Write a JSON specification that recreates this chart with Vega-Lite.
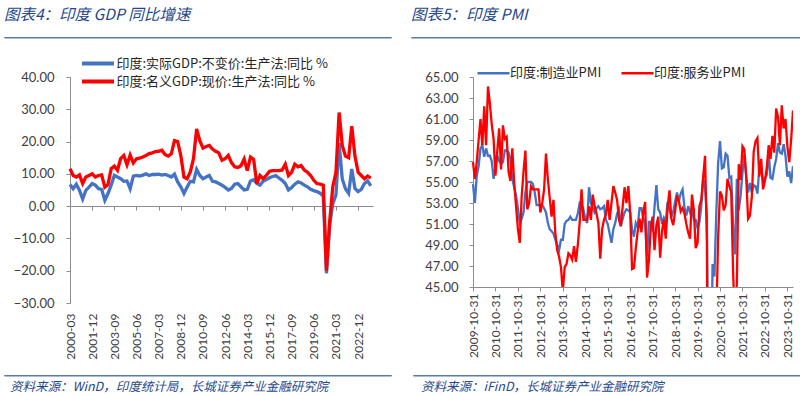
{
 "$schema": "https://vega.github.io/schema/vega-lite/v6.json",
 "padding": {"left": 3, "top": 7, "right": 0, "bottom": 0},
 "background": "white",
 "config": {
  "view": {"stroke": null},
  "font": "Noto Sans CJK SC",
  "axis": {"labelFont": "Lato", "labelFontSize": 13, "labelColor": "#404040", "domainColor": "#8c8c8c", "tickColor": "#8c8c8c", "grid": false, "tickSize": 4, "labelOverlap": false},
  "legend": {"labelFont": "Noto Sans CJK SC", "labelColor": "#262626", "padding": 0}
 },
 "spacing": 12,
 "vconcat": [
  {
   "spacing": 18,
   "hconcat": [
    {
     "width": 387, "height": 0.5,
     "view": {"stroke": "#5a7ca0", "strokeWidth": 1},
     "title": {"text": "图表4：印度 GDP 同比增速", "anchor": "start", "offset": 11, "fontSize": 15.5, "fontStyle": "italic", "fontWeight": "normal", "color": "#24488c", "font": "Noto Sans CJK SC"},
     "data": {"values": [{}]},
     "mark": {"type": "point", "opacity": 0},
     "encoding": {}
    },
    {
     "width": 389, "height": 0.5,
     "view": {"stroke": "#5a7ca0", "strokeWidth": 1},
     "title": {"text": "图表5：印度 PMI", "anchor": "start", "offset": 11, "fontSize": 15.5, "fontStyle": "italic", "fontWeight": "normal", "color": "#24488c", "font": "Noto Sans CJK SC"},
     "data": {"values": [{}]},
     "mark": {"type": "point", "opacity": 0},
     "encoding": {}
    }
   ]
  },
  {
   "spacing": 36,
   "resolve": {"scale": {"color": "independent", "x": "independent", "y": "independent"}, "legend": {"color": "independent"}, "axis": {"x": "independent", "y": "independent"}},
   "hconcat": [
    {
     "width": 369, "height": 226,
     "data": {"values": [
      {"d":"2000-03","a":6.7,"b":11.6},{"d":"2000-06","a":5.4,"b":9.5},{"d":"2000-09","a":6.8,"b":9.0},{"d":"2000-12","a":4.9,"b":9.7},
      {"d":"2001-03","a":2.2,"b":7.0},{"d":"2001-06","a":4.9,"b":9.0},{"d":"2001-09","a":5.9,"b":9.5},{"d":"2001-12","a":7.0,"b":10.0},
      {"d":"2002-03","a":6.5,"b":9.0},{"d":"2002-06","a":5.4,"b":9.5},{"d":"2002-09","a":5.2,"b":9.7},{"d":"2002-12","a":1.8,"b":5.9},
      {"d":"2003-03","a":3.9,"b":6.7},{"d":"2003-06","a":6.5,"b":11.6},{"d":"2003-09","a":9.5,"b":12.4},{"d":"2003-12","a":9.0,"b":11.1},
      {"d":"2004-03","a":8.5,"b":14.7},{"d":"2004-06","a":7.7,"b":15.7},{"d":"2004-09","a":7.8,"b":12.8},{"d":"2004-12","a":5.4,"b":15.8},
      {"d":"2005-03","a":9.3,"b":13.4},{"d":"2005-06","a":9.5,"b":14.7},{"d":"2005-09","a":9.3,"b":14.9},{"d":"2005-12","a":9.6,"b":15.2},
      {"d":"2006-03","a":10.0,"b":15.7},{"d":"2006-06","a":9.5,"b":16.3},{"d":"2006-09","a":9.8,"b":16.5},{"d":"2006-12","a":9.8,"b":16.9},
      {"d":"2007-03","a":9.9,"b":17.0},{"d":"2007-06","a":9.6,"b":17.3},{"d":"2007-09","a":9.8,"b":16.0},{"d":"2007-12","a":9.5,"b":15.5},
      {"d":"2008-03","a":9.0,"b":16.2},{"d":"2008-06","a":9.9,"b":20.3},{"d":"2008-09","a":7.5,"b":20.0},{"d":"2008-12","a":6.0,"b":15.7},
      {"d":"2009-03","a":3.9,"b":9.0},{"d":"2009-06","a":5.9,"b":8.5},{"d":"2009-09","a":7.7,"b":10.6},{"d":"2009-12","a":7.5,"b":14.7},
      {"d":"2010-03","a":11.4,"b":23.9},{"d":"2010-06","a":9.5,"b":20.3},{"d":"2010-09","a":8.5,"b":18.0},{"d":"2010-12","a":9.0,"b":18.5},
      {"d":"2011-03","a":9.5,"b":18.8},{"d":"2011-06","a":7.7,"b":17.7},{"d":"2011-09","a":7.5,"b":17.0},{"d":"2011-12","a":7.0,"b":16.5},
      {"d":"2012-03","a":6.5,"b":14.2},{"d":"2012-06","a":5.8,"b":14.7},{"d":"2012-09","a":5.0,"b":15.7},{"d":"2012-12","a":5.5,"b":13.5},
      {"d":"2013-03","a":6.8,"b":12.2},{"d":"2013-06","a":7.0,"b":12.0},{"d":"2013-09","a":6.0,"b":12.5},{"d":"2013-12","a":5.0,"b":14.6},
      {"d":"2014-03","a":5.2,"b":11.0},{"d":"2014-06","a":7.8,"b":15.2},{"d":"2014-09","a":8.2,"b":14.5},{"d":"2014-12","a":7.0,"b":7.0},
      {"d":"2015-03","a":6.5,"b":9.5},{"d":"2015-06","a":7.7,"b":8.5},{"d":"2015-09","a":8.2,"b":9.5},{"d":"2015-12","a":8.8,"b":10.8},
      {"d":"2016-03","a":9.2,"b":11.0},{"d":"2016-06","a":9.5,"b":11.0},{"d":"2016-09","a":8.7,"b":11.0},{"d":"2016-12","a":8.0,"b":11.2},
      {"d":"2017-03","a":7.0,"b":13.0},{"d":"2017-06","a":5.0,"b":9.5},{"d":"2017-09","a":5.8,"b":10.5},{"d":"2017-12","a":6.8,"b":13.0},
      {"d":"2018-03","a":7.5,"b":12.2},{"d":"2018-06","a":7.2,"b":12.6},{"d":"2018-09","a":6.5,"b":11.2},{"d":"2018-12","a":6.0,"b":10.5},
      {"d":"2019-03","a":5.2,"b":9.5},{"d":"2019-06","a":4.8,"b":8.0},{"d":"2019-09","a":4.5,"b":7.0},{"d":"2019-12","a":4.0,"b":6.8},
      {"d":"2020-03","a":3.1,"b":6.5},{"d":"2020-06","a":-20.8,"b":-20.0},{"d":"2020-09","a":-6.0,"b":-5.0},{"d":"2020-12","a":0.7,"b":6.0},
      {"d":"2021-03","a":3.5,"b":10.5},{"d":"2021-06","a":19.5,"b":29.0},{"d":"2021-09","a":8.4,"b":18.8},{"d":"2021-12","a":5.4,"b":15.5},
      {"d":"2022-03","a":4.0,"b":15.0},{"d":"2022-06","a":11.5,"b":24.8},{"d":"2022-09","a":5.5,"b":15.5},{"d":"2022-12","a":4.5,"b":10.5},
      {"d":"2023-03","a":5.2,"b":9.5},{"d":"2023-06","a":7.0,"b":8.5},{"d":"2023-09","a":7.8,"b":9.3},{"d":"2023-12","a":6.3,"b":8.7}
     ]},
     "transform": [{"fold": ["a", "b"], "as": ["series", "value"]}],
     "mark": {"type": "line", "strokeWidth": 3.3},
     "encoding": {
      "x": {"field": "d", "type": "ordinal", "title": null, "scale": {"type": "point", "range": [66, 369], "padding": 0.35, "align": 0},
            "axis": {"title": null, "values": ["2000-03","2001-12","2003-09","2005-06","2007-03","2008-12","2010-09","2012-06","2014-03","2015-12","2017-09","2019-06","2021-03","2022-12"],
                     "labelAngle": -90, "labelFontSize": 12, "offset": -97, "labelPadding": 103}},
      "y": {"field": "value", "type": "quantitative", "title": null, "scale": {"domain": [-30, 40], "nice": false},
            "axis": {"title": null, "values": [-30,-20,-10,0,10,20,30,40], "format": ".2f", "labelPadding": 12, "offset": -66}},
      "color": {"field": "series", "type": "nominal", "scale": {"domain": ["a", "b"], "range": ["#4472C4", "#FF0000"]},
                "legend": {"title": null, "orient": "none", "legendX": 84, "legendY": -23.5, "direction": "vertical", "symbolType": "M-2,0H2", "symbolSize": 256, "symbolStrokeWidth": 4, "labelFontSize": 13, "labelOffset": 8.5, "rowPadding": -1, "labelLimit": 400,
                           "labelExpr": "datum.value == 'a' ? '印度:实际GDP:不变价:生产法:同比 %' : '印度:名义GDP:现价:生产法:同比 %'"}}
     }
    },
    {
     "width": 379, "height": 210,
     "data": {"values": [
      {"d":"2009-10","m":54.8,"s":56.9},{"d":"2009-11","m":53.0,"s":55.3},{"d":"2009-12","m":55.6,"s":56.9},
      {"d":"2010-01","m":56.5,"s":59.0},{"d":"2010-02","m":58.2,"s":61.0},{"d":"2010-03","m":58.5,"s":58.5},{"d":"2010-04","m":57.4,"s":62.2},{"d":"2010-05","m":58.2,"s":58.5},{"d":"2010-06","m":57.5,"s":64.1},
      {"d":"2010-07","m":57.5,"s":62.5},{"d":"2010-08","m":57.0,"s":60.5},{"d":"2010-09","m":55.3,"s":59.1},{"d":"2010-10","m":56.5,"s":55.6},{"d":"2010-11","m":57.5,"s":58.0},{"d":"2010-12","m":57.0,"s":60.1},
      {"d":"2011-01","m":56.7,"s":56.2},{"d":"2011-02","m":56.9,"s":60.4},{"d":"2011-03","m":58.0,"s":59.1},{"d":"2011-04","m":58.0,"s":59.3},{"d":"2011-05","m":57.8,"s":56.0},{"d":"2011-06","m":57.2,"s":55.1},
      {"d":"2011-07","m":55.3,"s":58.2},{"d":"2011-08","m":54.5,"s":55.0},{"d":"2011-09","m":53.7,"s":52.7},{"d":"2011-10","m":52.5,"s":50.5},{"d":"2011-11","m":51.1,"s":49.2},{"d":"2011-12","m":51.5,"s":53.6},
      {"d":"2012-01","m":52.1,"s":56.0},{"d":"2012-02","m":54.0,"s":58.0},{"d":"2012-03","m":55.0,"s":52.4},{"d":"2012-04","m":55.0,"s":53.0},{"d":"2012-05","m":55.0,"s":54.6},{"d":"2012-06","m":54.8,"s":54.3},
      {"d":"2012-07","m":54.0,"s":54.3},{"d":"2012-08","m":52.8,"s":54.3},{"d":"2012-09","m":52.8,"s":54.3},{"d":"2012-10","m":52.8,"s":52.1},{"d":"2012-11","m":52.8,"s":53.0},{"d":"2012-12","m":52.5,"s":54.3},
      {"d":"2013-01","m":52.1,"s":57.7},{"d":"2013-02","m":51.1,"s":55.3},{"d":"2013-03","m":50.5,"s":53.5},{"d":"2013-04","m":50.3,"s":51.7},{"d":"2013-05","m":50.1,"s":53.3},{"d":"2013-06","m":49.5,"s":50.1},
      {"d":"2013-07","m":49.0,"s":48.5},{"d":"2013-08","m":48.5,"s":47.9},{"d":"2013-09","m":49.5,"s":46.9},{"d":"2013-10","m":49.5,"s":44.6},{"d":"2013-11","m":51.0,"s":46.9},{"d":"2013-12","m":51.3,"s":47.2},
      {"d":"2014-01","m":51.4,"s":48.2},{"d":"2014-02","m":51.7,"s":48.0},{"d":"2014-03","m":51.4,"s":47.6},{"d":"2014-04","m":51.4,"s":48.9},{"d":"2014-05","m":51.4,"s":47.4},{"d":"2014-06","m":52.0,"s":49.0},
      {"d":"2014-07","m":53.0,"s":51.1},{"d":"2014-08","m":52.8,"s":54.3},{"d":"2014-09","m":52.4,"s":51.4},{"d":"2014-10","m":51.5,"s":51.4},{"d":"2014-11","m":51.1,"s":51.4},{"d":"2014-12","m":54.5,"s":52.7},
      {"d":"2015-01","m":53.0,"s":51.4},{"d":"2015-02","m":52.5,"s":53.8},{"d":"2015-03","m":52.1,"s":52.7},{"d":"2015-04","m":52.5,"s":52.0},{"d":"2015-05","m":52.7,"s":51.1},{"d":"2015-06","m":52.4,"s":47.7},
      {"d":"2015-07","m":52.5,"s":50.5},{"d":"2015-08","m":52.7,"s":51.4},{"d":"2015-09","m":51.4,"s":51.9},{"d":"2015-10","m":51.0,"s":53.3},{"d":"2015-11","m":50.1,"s":51.4},{"d":"2015-12","m":49.2,"s":53.0},
      {"d":"2016-01","m":50.5,"s":54.6},{"d":"2016-02","m":51.1,"s":54.0},{"d":"2016-03","m":52.0,"s":53.3},{"d":"2016-04","m":52.4,"s":51.4},{"d":"2016-05","m":50.8,"s":50.8},{"d":"2016-06","m":51.5,"s":52.7},
      {"d":"2016-07","m":52.1,"s":54.5},{"d":"2016-08","m":52.4,"s":53.0},{"d":"2016-09","m":52.3,"s":54.6},{"d":"2016-10","m":52.1,"s":52.1},{"d":"2016-11","m":50.5,"s":46.7},{"d":"2016-12","m":49.8,"s":46.8},
      {"d":"2017-01","m":51.1,"s":48.7},{"d":"2017-02","m":50.7,"s":50.3},{"d":"2017-03","m":52.5,"s":51.5},{"d":"2017-04","m":52.5,"s":50.2},{"d":"2017-05","m":51.6,"s":52.2},{"d":"2017-06","m":50.9,"s":53.1},
      {"d":"2017-07","m":47.9,"s":45.9},{"d":"2017-08","m":51.2,"s":47.5},{"d":"2017-09","m":51.2,"s":50.7},{"d":"2017-10","m":50.3,"s":51.7},{"d":"2017-11","m":52.6,"s":48.5},{"d":"2017-12","m":54.7,"s":50.9},
      {"d":"2018-01","m":52.4,"s":51.7},{"d":"2018-02","m":52.1,"s":47.8},{"d":"2018-03","m":51.0,"s":50.3},{"d":"2018-04","m":51.6,"s":51.4},{"d":"2018-05","m":51.2,"s":49.6},{"d":"2018-06","m":53.1,"s":52.6},
      {"d":"2018-07","m":52.3,"s":54.2},{"d":"2018-08","m":51.7,"s":51.5},{"d":"2018-09","m":52.2,"s":50.9},{"d":"2018-10","m":53.1,"s":52.2},{"d":"2018-11","m":54.0,"s":53.7},{"d":"2018-12","m":53.2,"s":53.2},
      {"d":"2019-01","m":53.9,"s":52.2},{"d":"2019-02","m":54.3,"s":52.5},{"d":"2019-03","m":52.6,"s":52.0},{"d":"2019-04","m":51.8,"s":51.0},{"d":"2019-05","m":52.7,"s":50.2},{"d":"2019-06","m":52.1,"s":49.6},
      {"d":"2019-07","m":52.5,"s":53.8},{"d":"2019-08","m":51.4,"s":52.4},{"d":"2019-09","m":51.4,"s":48.7},{"d":"2019-10","m":50.6,"s":49.2},{"d":"2019-11","m":51.2,"s":52.7},{"d":"2019-12","m":52.7,"s":53.3},
      {"d":"2020-01","m":55.3,"s":55.5},{"d":"2020-02","m":54.5,"s":57.5},{"d":"2020-03","m":51.8,"s":49.3},{"d":"2020-04","m":27.4,"s":5.4},{"d":"2020-05","m":30.8,"s":12.6},{"d":"2020-06","m":47.2,"s":33.7},
      {"d":"2020-07","m":46.0,"s":34.2},{"d":"2020-08","m":52.0,"s":41.8},{"d":"2020-09","m":56.8,"s":49.8},{"d":"2020-10","m":58.9,"s":54.1},{"d":"2020-11","m":56.3,"s":53.7},{"d":"2020-12","m":56.4,"s":52.3},
      {"d":"2021-01","m":57.7,"s":52.8},{"d":"2021-02","m":57.5,"s":55.3},{"d":"2021-03","m":55.4,"s":54.6},{"d":"2021-04","m":55.5,"s":54.0},{"d":"2021-05","m":50.8,"s":46.4},{"d":"2021-06","m":48.1,"s":41.2},
      {"d":"2021-07","m":55.3,"s":45.4},{"d":"2021-08","m":52.3,"s":56.7},{"d":"2021-09","m":53.7,"s":55.2},{"d":"2021-10","m":55.9,"s":58.4},{"d":"2021-11","m":57.6,"s":58.1},{"d":"2021-12","m":55.5,"s":55.5},
      {"d":"2022-01","m":54.0,"s":51.5},{"d":"2022-02","m":54.9,"s":51.8},{"d":"2022-03","m":54.0,"s":53.6},{"d":"2022-04","m":54.7,"s":57.9},{"d":"2022-05","m":54.6,"s":58.9},{"d":"2022-06","m":53.9,"s":59.2},
      {"d":"2022-07","m":56.4,"s":55.5},{"d":"2022-08","m":56.2,"s":57.2},{"d":"2022-09","m":55.1,"s":54.3},{"d":"2022-10","m":55.3,"s":55.1},{"d":"2022-11","m":55.7,"s":56.4},{"d":"2022-12","m":57.8,"s":58.5},
      {"d":"2023-01","m":55.4,"s":57.2},{"d":"2023-02","m":55.3,"s":59.4},{"d":"2023-03","m":56.4,"s":57.8},{"d":"2023-04","m":57.2,"s":62.0},{"d":"2023-05","m":58.7,"s":61.2},{"d":"2023-06","m":57.8,"s":58.5},
      {"d":"2023-07","m":57.7,"s":62.3},{"d":"2023-08","m":58.6,"s":60.1},{"d":"2023-09","m":57.5,"s":61.0},{"d":"2023-10","m":55.5,"s":58.4},{"d":"2023-11","m":56.0,"s":56.9},{"d":"2023-12","m":54.9,"s":59.0},
      {"d":"2024-01","m":56.5,"s":61.8}
     ]},
     "transform": [{"fold": ["m", "s"], "as": ["series", "value"]}],
     "mark": {"type": "line", "strokeWidth": 2.3, "clip": true},
     "encoding": {
      "x": {"field": "d", "type": "ordinal", "title": null, "scale": {"type": "point", "range": [59, 379], "padding": 0},
            "axis": {"title": null, "values": ["2009-10","2010-10","2011-10","2012-10","2013-10","2014-10","2015-10","2016-10","2017-10","2018-10","2019-10","2020-10","2021-10","2022-10","2023-10"],
                     "labelExpr": "datum.label + '-31'", "labelAngle": -90, "labelFontSize": 12, "labelPadding": 2}},
      "y": {"field": "value", "type": "quantitative", "title": null, "scale": {"domain": [45, 65], "nice": false},
            "axis": {"title": null, "values": [45,47,49,51,53,55,57,59,61,63,65], "format": ".2f", "labelPadding": 11, "offset": -59}},
      "color": {"field": "series", "type": "nominal", "scale": {"domain": ["m", "s"], "range": ["#4472C4", "#FF0000"]},
                "legend": {"title": null, "orient": "none", "legendX": 70, "legendY": -13.5, "direction": "horizontal", "symbolType": "M-2,0H2", "symbolSize": 256, "symbolStrokeWidth": 2.5, "labelFontSize": 13, "labelOffset": 7, "columnPadding": 14, "labelLimit": 300,
                           "labelExpr": "datum.value == 'm' ? '印度:制造业PMI' : '印度:服务业PMI'"}}
     }
    }
   ]
  },
  {
   "spacing": 20,
   "hconcat": [
    {
     "width": 387, "height": 0.5,
     "view": {"stroke": "#5a7ca0", "strokeWidth": 1},
     "title": {"text": "资料来源：WinD，印度统计局，长城证券产业金融研究院", "orient": "bottom", "anchor": "start", "dx": 6, "offset": 3, "fontSize": 12.5, "fontStyle": "italic", "fontWeight": "normal", "color": "#24488c", "font": "Noto Sans CJK SC"},
     "data": {"values": [{}]},
     "mark": {"type": "point", "opacity": 0},
     "encoding": {}
    },
    {
     "width": 388, "height": 0.5,
     "view": {"stroke": "#5a7ca0", "strokeWidth": 1},
     "title": {"text": "资料来源：iFinD，长城证券产业金融研究院", "orient": "bottom", "anchor": "start", "dx": 8, "offset": 3, "fontSize": 12.5, "fontStyle": "italic", "fontWeight": "normal", "color": "#24488c", "font": "Noto Sans CJK SC"},
     "data": {"values": [{}]},
     "mark": {"type": "point", "opacity": 0},
     "encoding": {}
    }
   ]
  }
 ]
}
